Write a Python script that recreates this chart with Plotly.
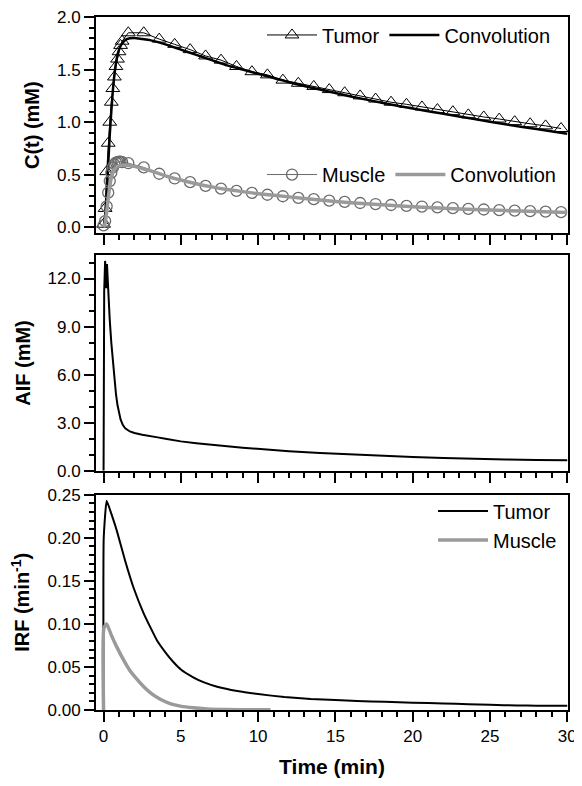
import plotly.graph_objects as go

# ---------------- data ----------------
# Top panel: measured concentration curves (symbols) and convolution fits (lines)
data_t = [0.0, 0.1, 0.2, 0.3, 0.4, 0.5, 0.6, 0.7, 0.8, 0.9, 1.0, 1.1, 1.2,
          1.6, 2.6, 3.6, 4.6, 5.6, 6.6, 7.6, 8.6, 9.6, 10.6, 11.6, 12.6, 13.6,
          14.6, 15.6, 16.6, 17.6, 18.6, 19.6, 20.6, 21.6, 22.6, 23.6, 24.6,
          25.6, 26.6, 27.6, 28.6, 29.6]
tumor_ct = [0.03, 0.18, 0.53, 0.80, 1.00, 1.19, 1.32, 1.43, 1.53, 1.60, 1.67, 1.73, 1.77,
            1.85, 1.85, 1.79, 1.74, 1.69, 1.63, 1.59, 1.53, 1.48, 1.45, 1.40, 1.37, 1.34,
            1.31, 1.28, 1.25, 1.22, 1.19, 1.17, 1.145, 1.12, 1.10, 1.07, 1.05,
            1.03, 1.005, 0.985, 0.965, 0.94]
muscle_ct = [0.02, 0.06, 0.20, 0.33, 0.44, 0.52, 0.57, 0.60, 0.615, 0.62, 0.625, 0.625, 0.62,
             0.61, 0.57, 0.51, 0.465, 0.43, 0.395, 0.368, 0.347, 0.328, 0.31, 0.296, 0.28, 0.268,
             0.255, 0.243, 0.232, 0.222, 0.213, 0.205, 0.198, 0.19, 0.183, 0.176, 0.17,
             0.164, 0.159, 0.154, 0.15, 0.145]

conv_t = [0, 0.1, 0.2, 0.3, 0.4, 0.5, 0.6, 0.7, 0.8, 0.9, 1.0, 1.2, 1.5, 2.0, 2.5, 3.0,
          4.0, 5.0, 6.0, 7.0, 8.0, 9.0, 10, 12, 14, 16, 18, 20, 22, 24, 26, 28, 30]
tumor_conv = [0, 0.10, 0.31, 0.60, 0.88, 1.10, 1.30, 1.45, 1.56, 1.64, 1.69, 1.75, 1.79, 1.80,
              1.79, 1.78, 1.74, 1.69, 1.64, 1.59, 1.54, 1.50, 1.46, 1.38, 1.31, 1.245, 1.185,
              1.13, 1.08, 1.03, 0.98, 0.935, 0.89]
muscle_conv = [0, 0.04, 0.15, 0.28, 0.39, 0.47, 0.52, 0.55, 0.57, 0.58, 0.585, 0.59, 0.59,
               0.58, 0.56, 0.54, 0.49, 0.45, 0.415, 0.385, 0.36, 0.34, 0.32, 0.29, 0.26,
               0.235, 0.215, 0.197, 0.182, 0.17, 0.16, 0.15, 0.142]

# Middle panel: arterial input function
aif_t = [0, 0.01, 0.04, 0.1, 0.17, 0.22, 0.27, 0.32, 0.4, 0.5, 0.6, 0.7, 0.8, 0.9, 1.0,
         1.1, 1.25, 1.4, 1.7, 2.0, 2.5, 3.0, 3.5, 4.0, 5.0, 6.0, 7.0, 8.0, 9.0, 10,
         12, 14, 16, 18, 20, 22, 24, 26, 28, 30]
aif = [0, 2.3, 11.2, 13.1, 11.4, 12.9, 11.8, 10.8, 9.4, 8.0, 6.9, 5.7, 4.8, 4.1, 3.6,
       3.2, 2.85, 2.65, 2.45, 2.35, 2.25, 2.15, 2.08, 2.0, 1.83, 1.72, 1.6, 1.52, 1.44, 1.36,
       1.22, 1.11, 1.02, 0.94, 0.86, 0.80, 0.74, 0.70, 0.67, 0.65]

# Bottom panel: impulse response functions
irf_tumor_t = [0, 0.01, 0.2, 0.5, 0.86, 1.4, 1.94, 2.6, 3.45, 4.0, 4.5, 5.0, 5.8, 6.5,
               7.35, 8.65, 10, 11.7, 13.4, 15, 16.4, 18.2, 20, 22, 23.6, 25, 26.8, 28, 30]
irf_tumor = [0, 0.20, 0.243, 0.228, 0.208, 0.173, 0.142, 0.112, 0.081, 0.067, 0.056,
             0.047, 0.038, 0.032, 0.027, 0.022, 0.0185, 0.015, 0.0127, 0.0115, 0.0105,
             0.0095, 0.0085, 0.0075, 0.0068, 0.006, 0.0052, 0.005, 0.005]
irf_muscle_t = [0, 0.02, 0.2, 0.5, 0.86, 1.3, 1.7, 2.2, 2.6, 3.1, 3.67, 4.3, 4.97, 5.8,
                6.7, 8.0, 9.5, 10.8]
irf_muscle = [0, 0.095, 0.100, 0.087, 0.073, 0.058, 0.046, 0.035, 0.027, 0.019, 0.0125,
              0.0075, 0.0045, 0.0025, 0.0013, 0.0006, 0.0003, 0.0002]

# ---------------- style ----------------
FONT = "Liberation Sans, Arial, sans-serif"
BLACK = "#000000"
GRAY = "#9a9a9a"
DGRAY = "#6a6a6a"

OFF = 8                       # page body margin of the browser
W, H = 582 - OFF, 786 - OFF
ML, MT = 96 - OFF, 15 - OFF
MR = 582 - 568
MB = H - (710 - OFF)
PH = H - MT - MB
PW = W - ML - MR


def dom(top_px, bot_px):
    top_px -= OFF
    bot_px -= OFF
    return [(H - MB - bot_px) / PH, (H - MB - top_px) / PH]


def ly(px):
    return (H - MB - (px - OFF)) / PH


def lx(px):
    return (px - OFF - ML) / PW


fig = go.Figure()

# top panel
fig.add_trace(go.Scatter(x=data_t, y=tumor_ct, name="Tumor", mode="lines+markers",
                         line=dict(color=BLACK, width=1),
                         marker=dict(symbol="triangle-up-open", size=12, color=BLACK,
                                     line=dict(width=1)),
                         xaxis="x", yaxis="y", legend="legend"))
fig.add_trace(go.Scatter(x=conv_t, y=tumor_conv, name="Convolution", mode="lines",
                         line=dict(color=BLACK, width=2.5, shape="spline", smoothing=0.6),
                         xaxis="x", yaxis="y", legend="legend"))
fig.add_trace(go.Scatter(x=data_t, y=muscle_ct, name="Muscle", mode="lines+markers",
                         line=dict(color=DGRAY, width=1),
                         marker=dict(symbol="circle-open", size=11, color=DGRAY,
                                     line=dict(width=1.3)),
                         xaxis="x", yaxis="y", legend="legend2"))
fig.add_trace(go.Scatter(x=conv_t, y=muscle_conv, name="Convolution", mode="lines",
                         line=dict(color=GRAY, width=3.5, shape="spline", smoothing=0.6),
                         xaxis="x", yaxis="y", legend="legend2"))

# middle panel
fig.add_trace(go.Scatter(x=aif_t, y=aif, name="AIF", mode="lines", showlegend=False,
                         line=dict(color=BLACK, width=2),
                         xaxis="x2", yaxis="y2"))

# bottom panel
fig.add_trace(go.Scatter(x=irf_tumor_t, y=irf_tumor, name="Tumor", mode="lines",
                         line=dict(color=BLACK, width=2, shape="spline", smoothing=0.4),
                         xaxis="x3", yaxis="y3", legend="legend3"))
fig.add_trace(go.Scatter(x=irf_muscle_t, y=irf_muscle, name="Muscle", mode="lines",
                         line=dict(color=GRAY, width=3.5, shape="spline", smoothing=0.5),
                         xaxis="x3", yaxis="y3", legend="legend3"))

tickfont = dict(family=FONT, size=17, color=BLACK)
titlefont = dict(family=FONT, size=20, color=BLACK)


def xax(anchor, labels):
    return dict(range=[-0.49, 30.05], dtick=5, tick0=0, ticks="outside", ticklen=10,
                tickwidth=2, tickcolor=BLACK, showline=True, linecolor=BLACK, linewidth=2,
                mirror=True, showgrid=False, zeroline=False, anchor=anchor,
                showticklabels=labels, tickfont=tickfont, automargin=False,
                ticklabeloverflow="allow",
                minor=dict(dtick=1, tick0=0, ticks="outside", ticklen=5, tickwidth=2,
                           tickcolor=BLACK, showgrid=False))


def yax(rng, dtick, mdtick, fmt, title, domain, anchor):
    return dict(range=rng, dtick=dtick, tick0=0, tickformat=fmt, ticks="outside",
                ticklen=10, tickwidth=2, tickcolor=BLACK, showline=True, linecolor=BLACK,
                linewidth=2, mirror=True, showgrid=False, zeroline=False,
                domain=domain, anchor=anchor, tickfont=tickfont, automargin=False,
                ticklabeloverflow="allow",
                title=dict(text=title, font=titlefont, standoff=12),
                minor=dict(dtick=mdtick, tick0=0, ticks="outside", ticklen=5, tickwidth=2,
                           tickcolor=BLACK, showgrid=False))


legfont = dict(family=FONT, size=20, color=BLACK)

fig.update_layout(
    width=W, height=H,
    margin=dict(l=ML, r=MR, t=MT, b=MB),
    paper_bgcolor="white", plot_bgcolor="white",
    font=dict(family=FONT, color=BLACK),
    xaxis=xax("y", False),
    xaxis2=xax("y2", False),
    xaxis3=dict(xax("y3", True),
                title=dict(text="<b>Time (min)</b>", font=dict(family=FONT, size=21,
                                                              color=BLACK), standoff=14)),
    yaxis=yax([-0.057, 2.0001], 0.5, 0.1, ".1f", "<b>C(t) (mM)</b>", dom(15, 232), "x"),
    yaxis2=yax([0, 13.45], 3, 1, ".1f", "<b>AIF (mM)</b>", dom(254, 470), "x2"),
    yaxis3=yax([0, 0.2501], 0.05, 0.01, ".2f", "<b>IRF (min<sup>-1</sup>)</b>",
               dom(494, 710), "x3"),
    legend=dict(orientation="h", x=lx(556), xanchor="right", y=ly(33),
                yanchor="middle", font=legfont, bgcolor="rgba(0,0,0,0)",
                itemwidth=50, borderwidth=0),
    legend2=dict(orientation="h", x=lx(561), xanchor="right", y=ly(173),
                 yanchor="middle", font=legfont, bgcolor="rgba(0,0,0,0)",
                 itemwidth=50, borderwidth=0),
    legend3=dict(orientation="v", x=lx(562), xanchor="right", y=ly(525),
                 yanchor="middle", font=legfont, bgcolor="rgba(0,0,0,0)",
                 itemwidth=50, borderwidth=0, tracegroupgap=0),
    showlegend=True,
)

fig.write_html("out.html")
